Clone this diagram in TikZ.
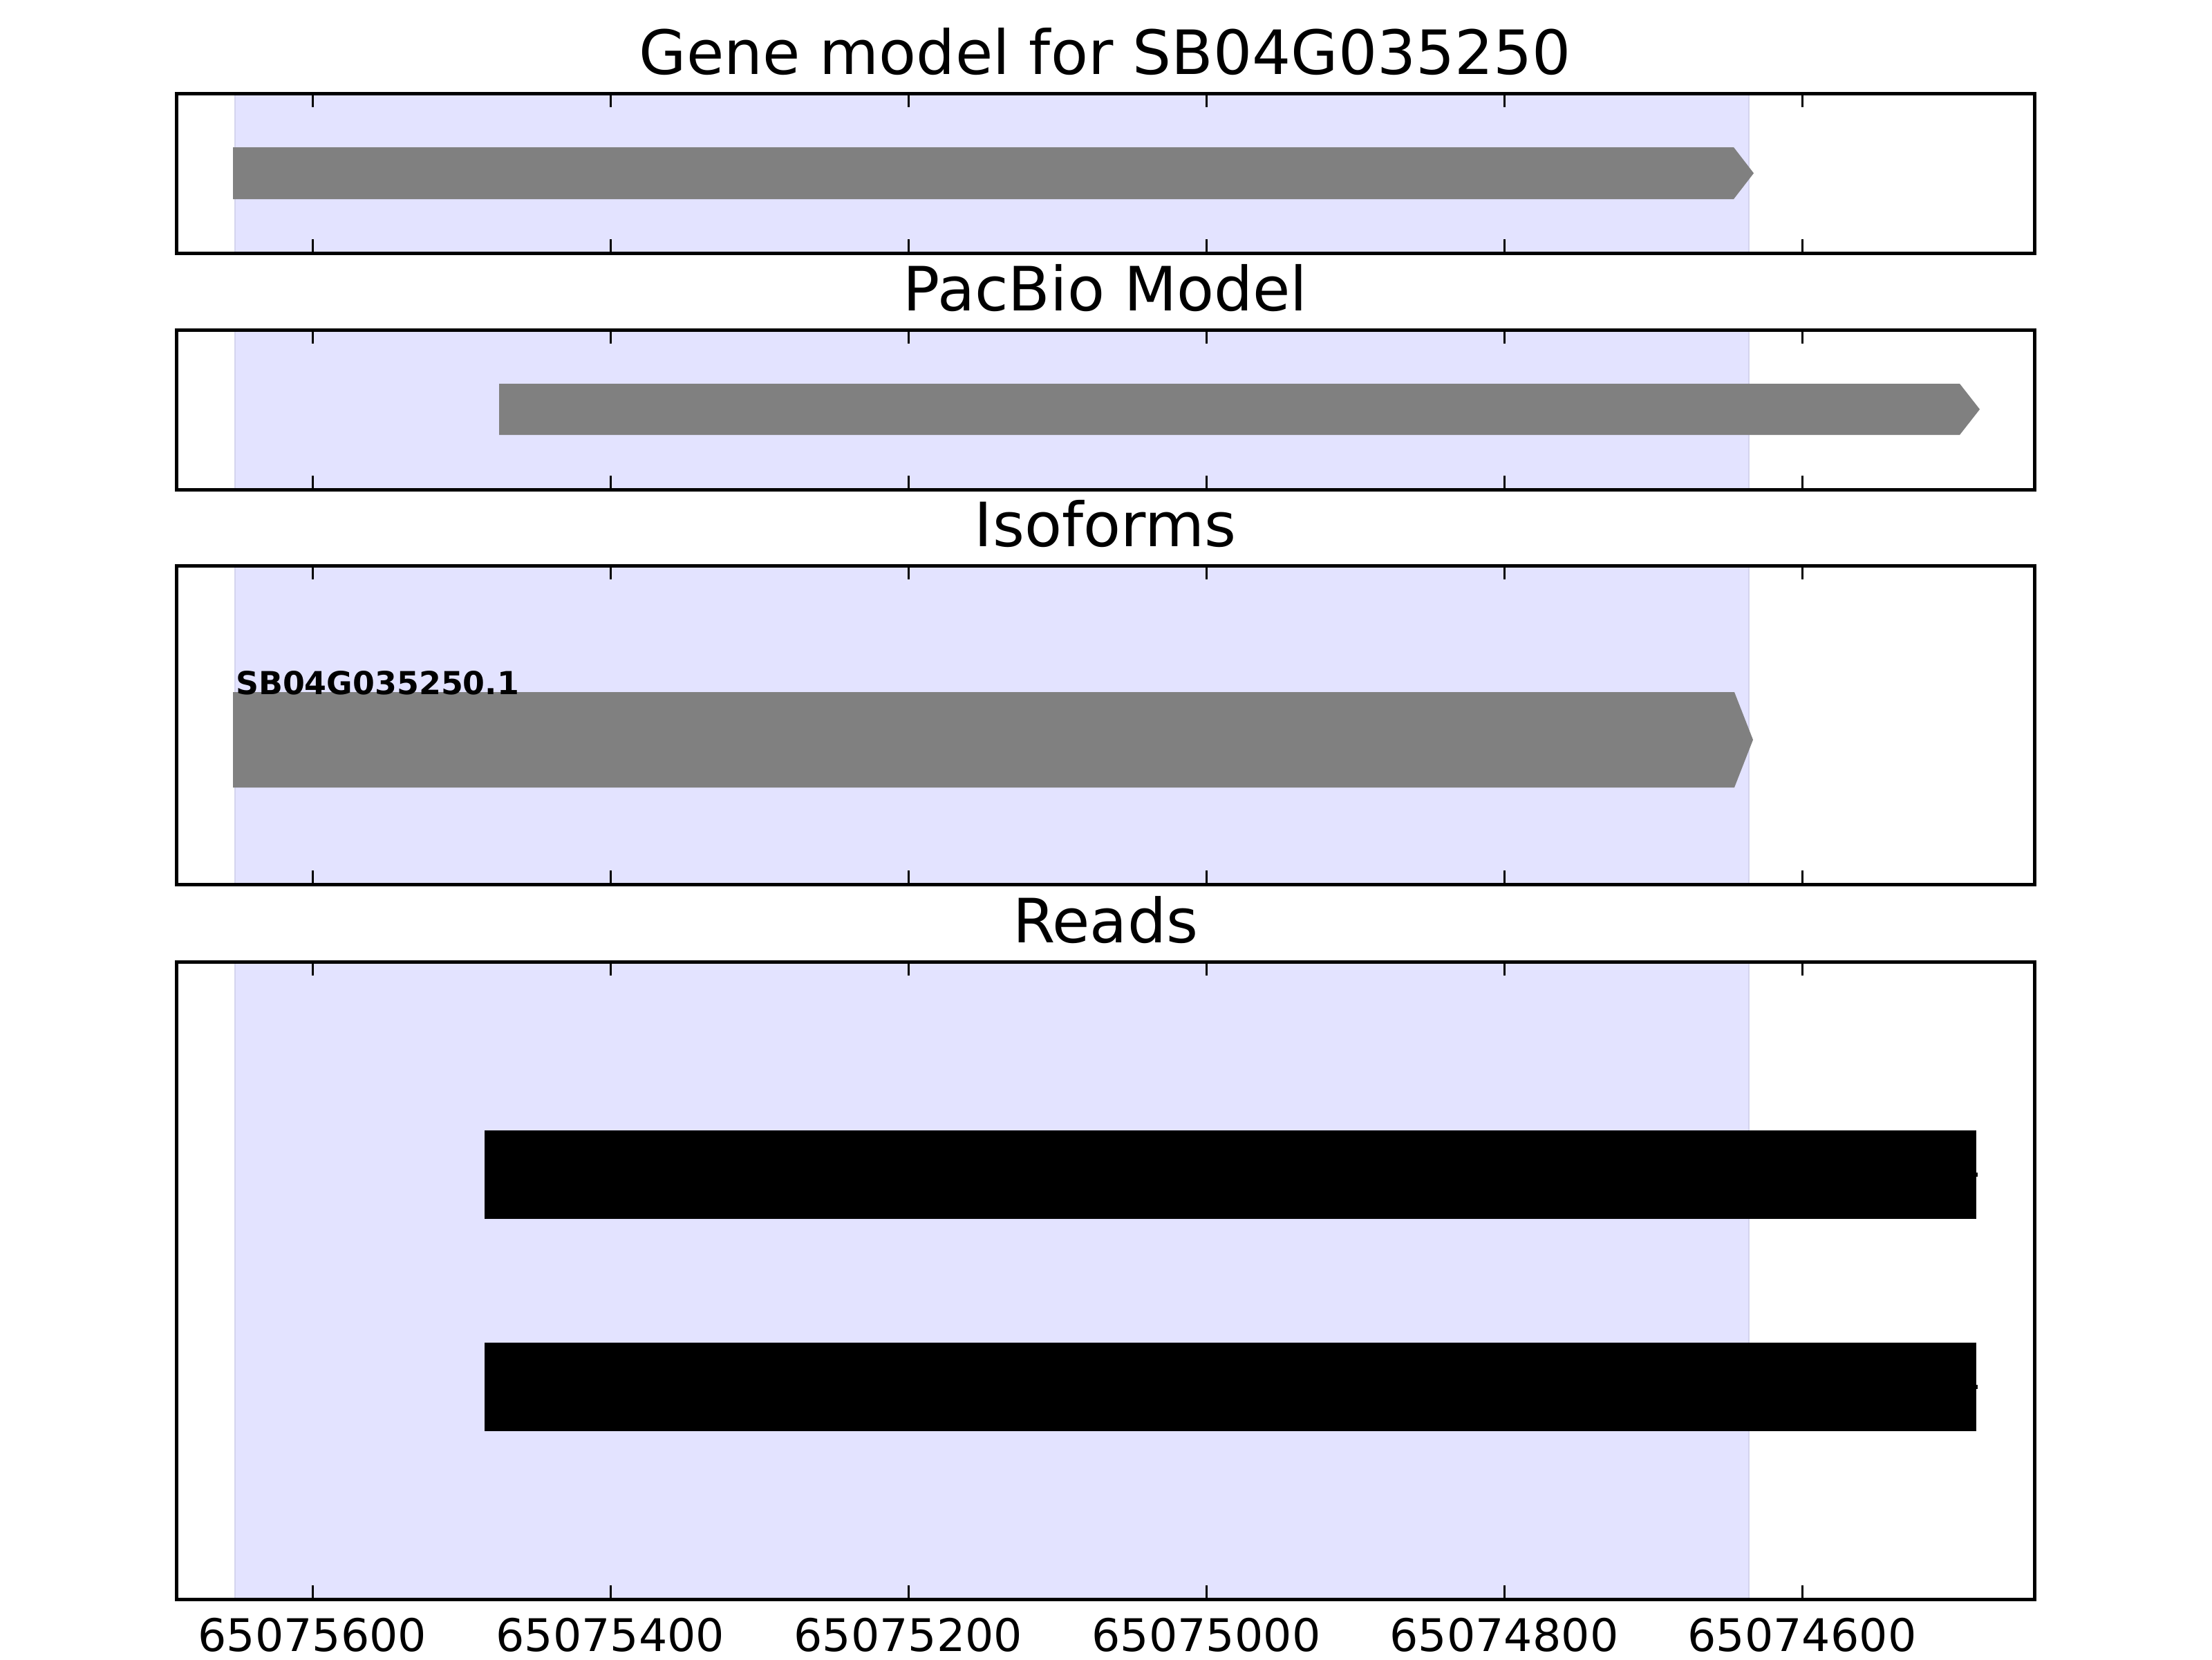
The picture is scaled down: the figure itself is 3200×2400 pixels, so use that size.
\documentclass[tikz,border=0pt]{standalone}
\usepackage{fontspec}
\setmainfont{DejaVu Sans}
\usetikzlibrary{positioning}
\definecolor{shade}{RGB}{227,227,255}
\definecolor{shadeedge}{RGB}{212,212,238}
\definecolor{exon}{RGB}{128,128,128}

\begin{document}
\begin{tikzpicture}[x=0.18pt,y=-0.18pt,
 ttl/.style={font=\fontsize{15.9}{19}\selectfont,anchor=base,inner sep=0pt},
 ticklab/.style={font=\fontsize{11.7}{14}\selectfont,anchor=base,inner sep=0pt},
 frame/.style={draw,line width=0.9pt},
 tck/.style={line width=0.54pt},
 span/.style={fill=shade,draw=shadeedge,line width=0.3pt},
 exonbar/.style={fill=exon},
 readbar/.style={fill=black}]
\useasboundingbox[fill=white] (0,0) rectangle (3200,2400);
% panels: top / bottom / title / name
\foreach \ptop/\pbot/\ptitle/\pname in {135/366/Gene model for SB04G035250/gene,
  477/708/PacBio Model/pacbio, 818/1279/Isoforms/iso, 1391/2313/Reads/reads}{
  \filldraw[span] (340,\ptop) rectangle (2530,\pbot);
  \node[ttl] (t-\pname) at (1599,{\ptop-28}) {\ptitle};
}
% gene model, pacbio model, isoform
\fill[exonbar] (337,213) -- (2508,213) -- (2537,250.5) -- (2508,288) -- (337,288) -- cycle;
\fill[exonbar] (722,555) -- (2835,555) -- (2864,592) -- (2835,629) -- (722,629) -- cycle;
\fill[exonbar] (337,1001) -- (2509,1001) -- (2536,1070) -- (2509,1139) -- (337,1139) -- cycle;
\node[anchor=base west,inner sep=0pt,font=\bfseries\fontsize{8.25}{10}\selectfont] (iso1) at (340,1004) {SB04G035250.1};
% reads
\foreach \ry in {1699,2006}{
  \fill[readbar] (701,{\ry-64}) rectangle (2859,{\ry+64});
  \fill[readbar] (2858,{\ry-3}) rectangle (2861,{\ry+3});
}
% frames and ticks
\foreach \ptop/\pbot in {135/366, 477/708, 818/1279, 1391/2313}{
  \foreach \i in {0,...,5}{
    \draw[tck] ({452+431*\i},\ptop) -- ++(0,20);
    \draw[tck] ({452+431*\i},\pbot) -- ++(0,-20);
  }
  \draw[frame] (255,\ptop) rectangle (2943,\pbot);
}
\foreach \i/\lab in {0/65075600,1/65075400,2/65075200,3/65075000,4/65074800,5/65074600}
  \node[ticklab] (x\i) at ({452+431*\i},2388) {\lab};
\end{tikzpicture}
\end{document}
